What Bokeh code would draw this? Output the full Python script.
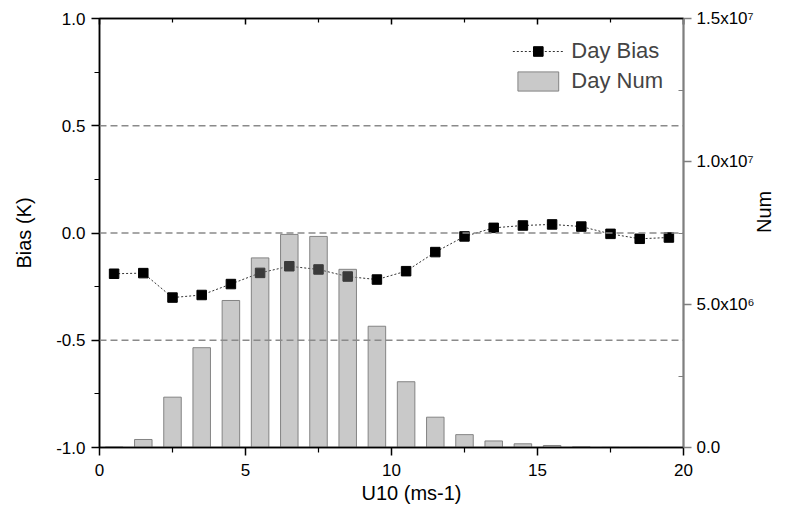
import math
from bokeh.plotting import figure
from bokeh.models import (Range1d, LinearAxis, FixedTicker, Legend, LegendItem,
                          ColumnDataSource, Span, Title)
from bokeh.embed import file_html
from bokeh.resources import INLINE

# wind speed bin centres (m/s)
u10 = [0.5, 1.5, 2.5, 3.5, 4.5, 5.5, 6.5, 7.5, 8.5, 9.5,
       10.5, 11.5, 12.5, 13.5, 14.5, 15.5, 16.5, 17.5, 18.5, 19.5]
# daytime mean bias per bin (K)
day_bias = [-0.190, -0.187, -0.301, -0.289, -0.238, -0.186, -0.155, -0.170, -0.203, -0.217,
            -0.178, -0.089, -0.016, 0.024, 0.035, 0.040, 0.030, -0.004, -0.027, -0.021]
# daytime sample count per bin
day_num = [0.02e6, 0.28e6, 1.76e6, 3.49e6, 5.14e6, 6.63e6, 7.45e6, 7.38e6, 6.23e6, 4.24e6,
           2.30e6, 1.06e6, 0.45e6, 0.23e6, 0.13e6, 0.07e6, 0.025e6, 0.005e6, 0.002e6, 0.001e6]

left_ticks = [-1.0, -0.5, 0.0, 0.5, 1.0]
left_labels = ["-1.0", "-0.5", "0.0", "0.5", "1.0"]
right_ticks = [0, 5e6, 1e7, 1.5e7]
right_labels = ["0.0", "5.0x10\u2076", "1.0x10\u2077", "1.5x10\u2077"]
x_ticks = [0, 5, 10, 15, 20]

FONT = "Liberation Sans"

p = figure(width=791, height=521, output_backend="svg", toolbar_location=None,
           x_range=Range1d(0, 20), y_range=Range1d(-1, 1),
           min_border_left=99, min_border_right=108, min_border_top=18,
           min_border_bottom=74, background_fill_color="white",
           border_fill_color="white")
p.outline_line_color = "black"
p.outline_line_width = 1.5
p.xgrid.visible = False
p.ygrid.visible = False

# dashed reference lines
for yv in [-0.5, 0.0, 0.5]:
    p.add_layout(Span(location=yv, dimension="width", line_color="#8a8a8a",
                      line_width=1.5, line_dash="7 4"))

p.extra_y_ranges = {"num": Range1d(0, 1.5e7)}

src = ColumnDataSource(dict(x=u10, bias=day_bias, num=day_num))

bias_line = p.line("x", "bias", source=src, line_color="#333333", line_width=1,
                   line_dash="2 2")
bias_pts = p.scatter("x", "bias", source=src, marker="square", size=9.5,
                     fill_color="black", line_color="black")
bars = p.vbar(x="x", top="num", bottom=0, width=0.6, source=src, y_range_name="num",
              fill_color="#838383", fill_alpha=0.44, line_color="#7a7a7a",
              line_width=1, line_alpha=0.9)

def style_axis(ax, color="black"):
    ax.axis_line_color = color
    ax.axis_line_width = 1.5
    ax.major_tick_line_color = color
    ax.minor_tick_line_color = color
    ax.major_tick_line_width = 1.5
    ax.minor_tick_line_width = 1.2
    ax.major_label_text_font = FONT
    ax.major_label_text_font_size = "17px"
    ax.major_label_text_color = "black"
    ax.axis_label_text_font = FONT
    ax.axis_label_text_font_size = "20px"
    ax.axis_label_text_font_style = "normal"
    ax.axis_label_text_color = "black"

# bottom axis (its title is a Title below, offset from the frame's left edge)
xa = p.xaxis[0]
xa.ticker = FixedTicker(ticks=x_ticks, minor_ticks=[2.5, 7.5, 12.5, 17.5])
style_axis(xa)
xa.major_tick_out = 8
xa.major_tick_in = 0
xa.minor_tick_out = 5
xa.minor_tick_in = 0
xa.major_label_standoff = 8

p.add_layout(Title(text="U10 (ms-1)", align="left", offset=262, standoff=3,
                   text_font=FONT, text_font_size="20px", text_font_style="normal",
                   text_color="black"), "below")

# left axis
ya = p.yaxis[0]
ya.ticker = FixedTicker(ticks=left_ticks, minor_ticks=[-0.75, -0.25, 0.25, 0.75])
ya.major_label_overrides = dict(zip(left_ticks, left_labels))
ya.axis_label = "Bias (K)"
style_axis(ya)
ya.major_tick_out = 8
ya.major_tick_in = 0
ya.minor_tick_out = 5
ya.minor_tick_in = 0
ya.major_label_standoff = 6
ya.axis_label_standoff = 18

# right axis for counts
ra = LinearAxis(y_range_name="num", axis_label="Num")
ra.ticker = FixedTicker(ticks=right_ticks, minor_ticks=[2.5e6, 7.5e6, 1.25e7])
ra.major_label_overrides = dict(zip(right_ticks, right_labels))
style_axis(ra, "#7f7f7f")
ra.major_tick_out = 8
ra.major_tick_in = 0
ra.minor_tick_out = 0
ra.minor_tick_in = 5
ra.major_label_standoff = 5
ra.axis_label_standoff = 6
ra.axis_label_orientation = math.pi / 2
p.add_layout(ra, "right")

# top axis: frame ticks only, no labels
ta = LinearAxis()
ta.ticker = FixedTicker(ticks=x_ticks, minor_ticks=[2.5, 7.5, 12.5, 17.5])
style_axis(ta)
ta.major_tick_out = 0
ta.major_tick_in = 6
ta.minor_tick_out = 0
ta.minor_tick_in = 4
ta.major_label_overrides = {t: "" for t in x_ticks}
ta.major_label_standoff = 0
p.add_layout(ta, "above")

legend = Legend(items=[LegendItem(label="Day Bias", renderers=[bias_line, bias_pts]),
                       LegendItem(label="Day Num", renderers=[bars])],
                location="top_right", border_line_color=None,
                background_fill_alpha=0.0, label_text_font=FONT,
                label_text_font_size="22px", glyph_width=51, glyph_height=24,
                spacing=4, padding=4, margin=20, label_standoff=8)
p.add_layout(legend)

open("out.html", "w").write(file_html(p, INLINE))
